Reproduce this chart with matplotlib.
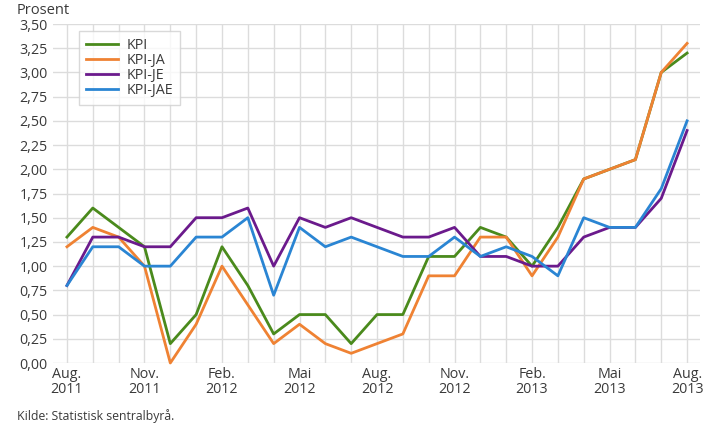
import matplotlib
matplotlib.use("Agg")
import matplotlib.pyplot as plt
import numpy as np

plt.rcParams['font.family'] = ['Open Sans', 'DejaVu Sans']

months = ["Aug. 2011", "Sep. 2011", "Okt. 2011", "Nov. 2011", "Des. 2011",
          "Jan. 2012", "Feb. 2012", "Mar. 2012", "Apr. 2012", "Mai 2012",
          "Jun. 2012", "Jul. 2012", "Aug. 2012", "Sep. 2012", "Okt. 2012",
          "Nov. 2012", "Des. 2012", "Jan. 2013", "Feb. 2013", "Mar. 2013",
          "Apr. 2013", "Mai 2013", "Jun. 2013", "Jul. 2013", "Aug. 2013"]

kpi = [1.3, 1.6, 1.4, 1.2, 0.2, 0.5, 1.2, 0.8, 0.3, 0.5, 0.5, 0.2, 0.5,
       0.5, 1.1, 1.1, 1.4, 1.3, 1.0, 1.4, 1.9, 2.0, 2.1, 3.0, 3.2]
kpi_ja = [1.2, 1.4, 1.3, 1.0, 0.0, 0.4, 1.0, 0.6, 0.2, 0.4, 0.2, 0.1, 0.2,
          0.3, 0.9, 0.9, 1.3, 1.3, 0.9, 1.3, 1.9, 2.0, 2.1, 3.0, 3.3]
kpi_je = [0.8, 1.3, 1.3, 1.2, 1.2, 1.5, 1.5, 1.6, 1.0, 1.5, 1.4, 1.5, 1.4,
          1.3, 1.3, 1.4, 1.1, 1.1, 1.0, 1.0, 1.3, 1.4, 1.4, 1.7, 2.4]
kpi_jae = [0.8, 1.2, 1.2, 1.0, 1.0, 1.3, 1.3, 1.5, 0.7, 1.4, 1.2, 1.3, 1.2,
           1.1, 1.1, 1.3, 1.1, 1.2, 1.1, 0.9, 1.5, 1.4, 1.4, 1.8, 2.5]

tick_labels = ["Aug.\n2011", "Nov.\n2011", "Feb.\n2012", "Mai\n2012",
               "Aug.\n2012", "Nov.\n2012", "Feb.\n2013", "Mai\n2013", "Aug.\n2013"]
y_ticks = [0.0, 0.25, 0.5, 0.75, 1.0, 1.25, 1.5, 1.75, 2.0, 2.25, 2.5, 2.75, 3.0, 3.25, 3.5]

series = [("KPI", kpi, "#4a8a1c"),
          ("KPI-JA", kpi_ja, "#ef8233"),
          ("KPI-JE", kpi_je, "#6b1a8c"),
          ("KPI-JAE", kpi_jae, "#2a85d3")]

fig = plt.figure(figsize=(7.11, 4.23), dpi=100)
ax = fig.add_axes([53/711, 60/423, 647/711, 339/423])

x = np.arange(len(months))
for name, vals, col in series:
    ax.plot(x, vals, color=col, lw=2.0, label=name, clip_on=False, zorder=3)

ax.set_xlim(-0.54, len(months) - 1 + 0.5)
ax.set_ylim(0, 3.5)
ax.set_xticks(x, minor=True)
ax.set_xticks(x[::3])
ax.set_xticklabels(tick_labels, fontsize=10.3, color="#3a3a3a", linespacing=0.95)
ax.set_yticks(y_ticks)
ax.set_yticklabels([f"{v:.2f}".replace(".", ",") for v in y_ticks], fontsize=10.3, color="#3a3a3a")
ax.grid(True, which="both", axis="x", color="#dcdcdc", lw=1.0)
ax.grid(True, which="major", axis="y", color="#dcdcdc", lw=1.0)
ax.tick_params(which="both", length=0, pad=3)
ax.tick_params(axis="y", pad=4)
for s in ax.spines.values():
    s.set_visible(False)
ax.set_axisbelow(True)

leg = ax.legend(loc="upper left", bbox_to_anchor=(26/647, (363-31)/339), borderaxespad=0,
                fontsize=10.3, frameon=True, fancybox=False, edgecolor="#d0d0d0",
                handlelength=2.2, labelspacing=0.0, borderpad=0.5, handletextpad=0.6)
leg.get_frame().set_linewidth(1.0)
for t in leg.get_texts():
    t.set_color("#3a3a3a")

fig.text(17/711, 1 - 10/423, "Prosent", fontsize=10.5, color="#3a3a3a", va="center", ha="left")
fig.text(17/711, 1 - 416/423, "Kilde: Statistisk sentralbyrå.", fontsize=8.8, color="#3a3a3a",
         va="center", ha="left")

fig.savefig("out.png", dpi=100)
